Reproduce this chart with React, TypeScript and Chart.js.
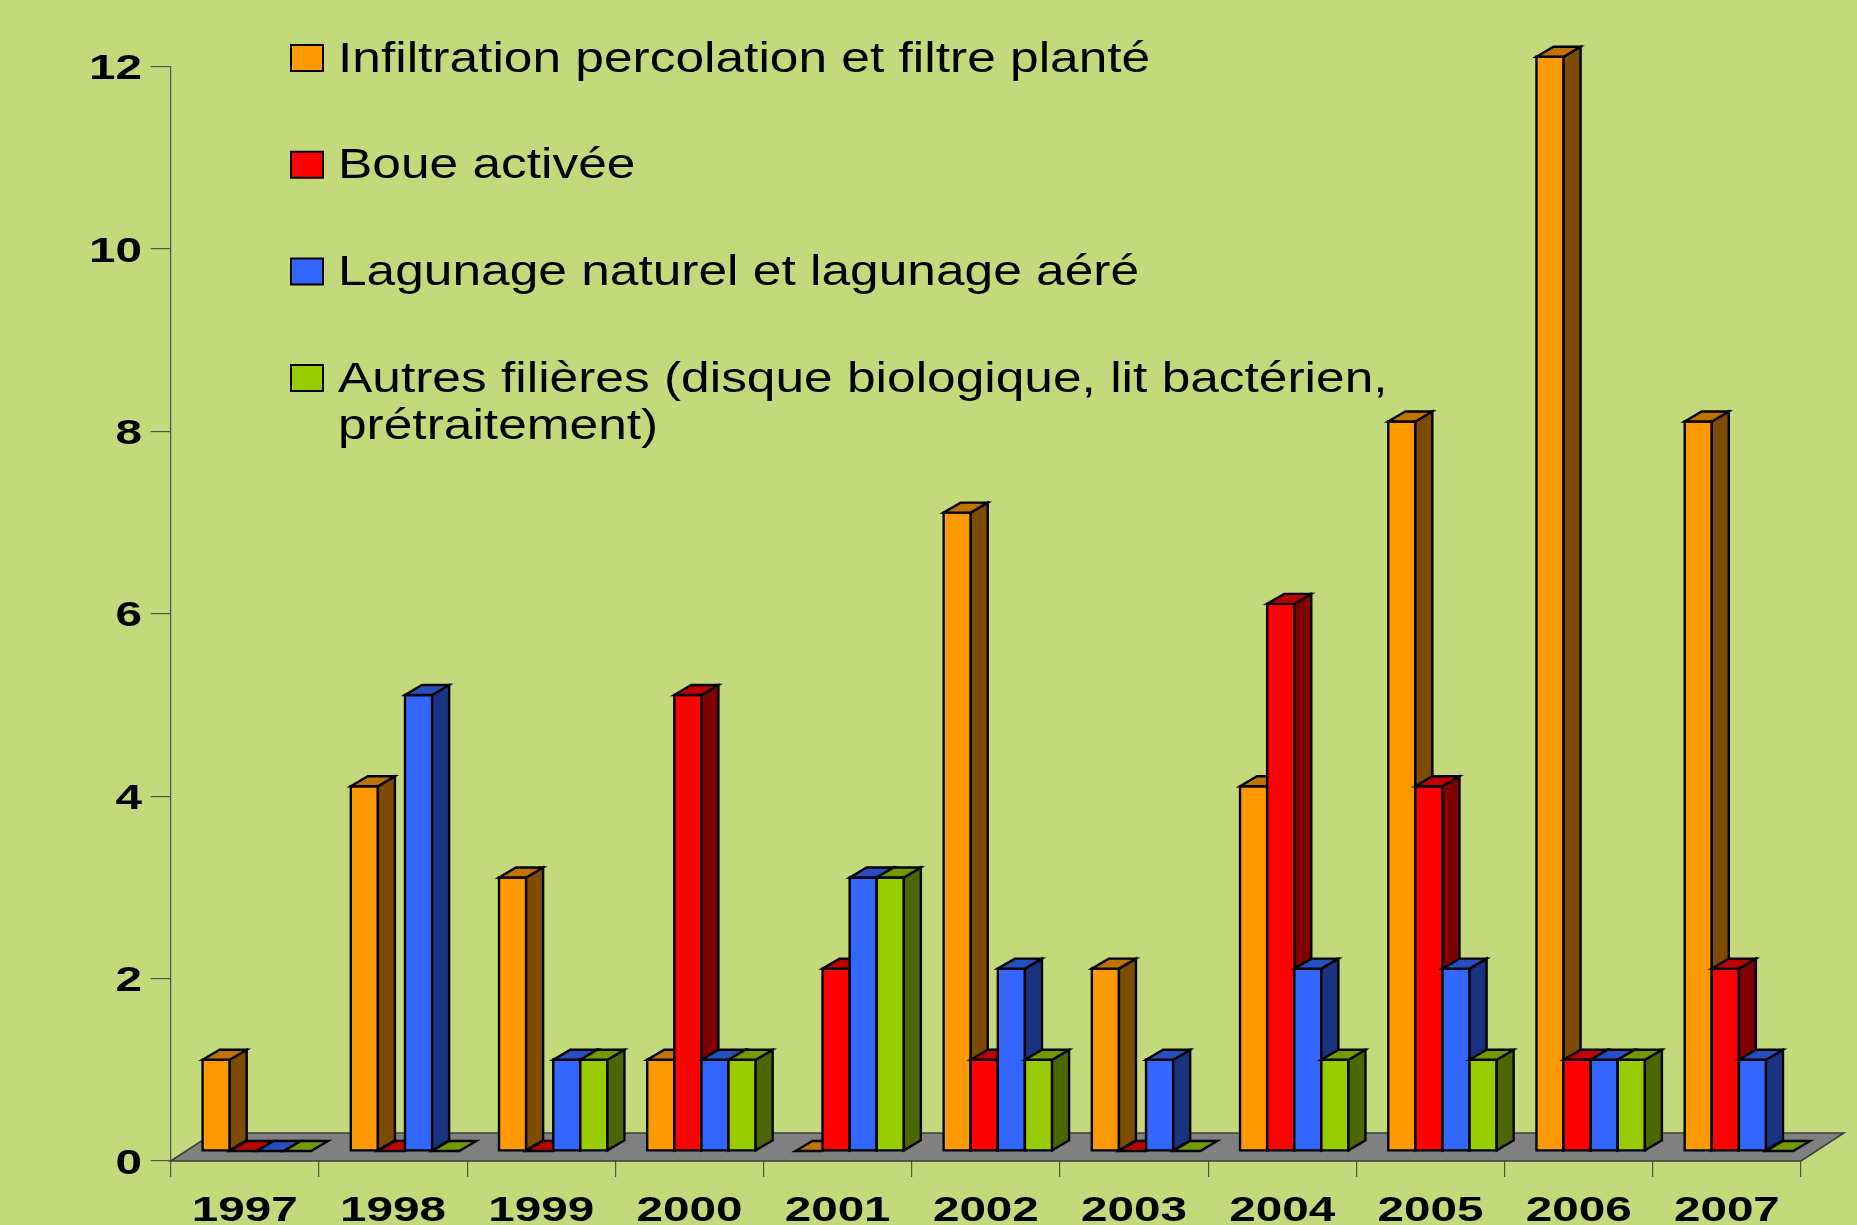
import React, { useEffect, useRef } from "react";
import { Chart, registerables } from "chart.js";

Chart.register(...registerables);

// ---------- data ----------
const YEARS = ["1997", "1998", "1999", "2000", "2001", "2002", "2003", "2004", "2005", "2006", "2007"];
const SERIES_LABELS = [
  "Infiltration percolation et filtre planté",
  "Boue activée",
  "Lagunage naturel et lagunage aéré",
  "Autres filières (disque biologique, lit bactérien,\nprétraitement)",
];
const INFILTRATION = [1, 4, 3, 1, 0, 7, 2, 4, 8, 12, 8];
const BOUE_ACTIVEE = [0, 0, 0, 5, 2, 1, 0, 6, 4, 1, 2];
const LAGUNAGE = [0, 5, 1, 1, 3, 2, 1, 2, 2, 1, 1];
const AUTRES = [0, 0, 1, 1, 3, 1, 0, 1, 1, 1, 0];
const Y_MIN = 0;
const Y_MAX = 12;
const Y_STEP = 2;

// ---------- styles ----------
const BG = "#C3D97B";
const FRONT = ["#FF9900", "#FF0000", "#3366FF", "#99CC00"];
const SIDE = ["#7D4C00", "#7F0000", "#1A3380", "#4C6600"];
const TOP = ["#BF7300", "#BF0000", "#2650BF", "#739900"];
const AXIS_COLOR = "#4E5645";
const FDX = 12; // front plane shift
const FDY = -10;
const DDX = 17; // bar depth
const DDY = 10;
const FLOOR_DX = 43;
const FLOOR_DY = 28;
const TICK_FONT = "bold 35px 'Liberation Sans', Arial, sans-serif";
const TICK_SX = 1.36;
const LEGEND_FONT = "42px 'Liberation Sans', Arial, sans-serif";
const LEGEND_SX = 1.225;

const bars3d = {
  id: "bars3d",
  beforeDraw(chart: any) {
    const ctx = chart.ctx;
    ctx.save();
    ctx.fillStyle = BG;
    ctx.fillRect(0, 0, chart.width, chart.height);
    ctx.restore();
  },
  beforeDatasetsDraw(chart: any) {
    const ctx = chart.ctx;
    const y0 = chart.scales.y.getPixelForValue(0);
    const l = chart.chartArea.left;
    const r = chart.chartArea.right;
    ctx.save();
    ctx.beginPath();
    ctx.moveTo(l, y0);
    ctx.lineTo(l + FLOOR_DX, y0 - FLOOR_DY);
    ctx.lineTo(r + FLOOR_DX, y0 - FLOOR_DY);
    ctx.lineTo(r, y0);
    ctx.closePath();
    ctx.fillStyle = "#808080";
    ctx.fill();
    ctx.lineWidth = 1.5;
    ctx.strokeStyle = "#3C3C3C";
    ctx.stroke();
    ctx.restore();
  },
  beforeDatasetDraw() {
    return false;
  },
  afterDatasetsDraw(chart: any) {
    const ctx = chart.ctx;
    ctx.save();
    ctx.lineWidth = 2.4;
    ctx.lineJoin = "miter";
    ctx.strokeStyle = "#000";
    chart.data.datasets.forEach((_ds: any, i: number) => {
      const meta = chart.getDatasetMeta(i);
      meta.data.forEach((el: any) => {
        const p = el.getProps(["x", "y", "base", "width"], true);
        const left = p.x - p.width / 2 + FDX;
        const right = p.x + p.width / 2 + FDX;
        const top = Math.min(p.y, p.base) + FDY;
        const bottom = Math.max(p.y, p.base) + FDY;
        if (bottom - top > 0.5) {
          ctx.beginPath();
          ctx.rect(left, top, right - left, bottom - top);
          ctx.fillStyle = FRONT[i];
          ctx.fill();
          ctx.stroke();
          ctx.beginPath();
          ctx.moveTo(right, top);
          ctx.lineTo(right + DDX, top - DDY);
          ctx.lineTo(right + DDX, bottom - DDY);
          ctx.lineTo(right, bottom);
          ctx.closePath();
          ctx.fillStyle = SIDE[i];
          ctx.fill();
          ctx.stroke();
        }
        ctx.beginPath();
        ctx.moveTo(left, top);
        ctx.lineTo(left + DDX, top - DDY);
        ctx.lineTo(right + DDX, top - DDY);
        ctx.lineTo(right, top);
        ctx.closePath();
        ctx.fillStyle = TOP[i];
        ctx.fill();
        ctx.stroke();
      });
    });
    ctx.restore();
  },
  afterDraw(chart: any) {
    const ctx = chart.ctx;
    const xs = chart.scales.x;
    const ys = chart.scales.y;
    ctx.save();
    ctx.fillStyle = "#000";
    ctx.font = TICK_FONT;
    ctx.textAlign = "right";
    ctx.textBaseline = "alphabetic";
    ys.ticks.forEach((t: any) => {
      const py = ys.getPixelForValue(t.value);
      ctx.save();
      ctx.translate(142, py + 12.5);
      ctx.scale(TICK_SX, 1);
      ctx.fillText(String(t.value), 0, 0);
      ctx.restore();
    });
    ctx.textAlign = "center";
    chart.data.labels.forEach((lab: string, i: number) => {
      const px = xs.getPixelForValue(i);
      ctx.save();
      ctx.translate(px, 1221);
      ctx.scale(TICK_SX, 1);
      ctx.fillText(lab, 0, 0);
      ctx.restore();
    });
    ctx.font = LEGEND_FONT;
    ctx.textAlign = "left";
    chart.data.datasets.forEach((ds: any, i: number) => {
      const boxTop = 45 + i * 106.7;
      ctx.beginPath();
      ctx.rect(291, boxTop, 32, 26);
      ctx.fillStyle = FRONT[i];
      ctx.fill();
      ctx.lineWidth = 2;
      ctx.strokeStyle = "#000";
      ctx.stroke();
      ctx.fillStyle = "#000";
      const lines = String(ds.label).split("\n");
      lines.forEach((ln, j) => {
        ctx.save();
        ctx.translate(338, boxTop + 26.5 + j * 47.7);
        ctx.scale(LEGEND_SX, 1);
        ctx.fillText(ln, 0, 0);
        ctx.restore();
      });
    });
    ctx.restore();
  },
};

export default function App() {
  const ref = useRef<HTMLCanvasElement | null>(null);
  useEffect(() => {
    if (!ref.current) return;
    const series = [INFILTRATION, BOUE_ACTIVEE, LAGUNAGE, AUTRES];
    const chart = new Chart(ref.current, {
      type: "bar",
      data: {
        labels: YEARS,
        datasets: series.map((d, i) => ({
          label: SERIES_LABELS[i],
          data: d,
          backgroundColor: FRONT[i],
          borderColor: "#000",
          borderWidth: 2,
          categoryPercentage: 0.7315,
          barPercentage: 1,
          clip: false as any,
        })),
      },
      options: {
        animation: false,
        responsive: false,
        devicePixelRatio: 1,
        events: [],
        layout: { padding: { left: 0, right: 56, top: 66.7, bottom: 0 } },
        plugins: { legend: { display: false }, tooltip: { enabled: false } },
        scales: {
          x: {
            type: "category",
            offset: true,
            grid: {
              offset: true,
              drawOnChartArea: false,
              drawTicks: true,
              tickLength: 16,
              color: AXIS_COLOR,
              lineWidth: 1.2,
            },
            border: { display: false },
            ticks: { display: false },
            afterFit: (s: any) => {
              s.height = 64;
            },
          },
          y: {
            type: "linear",
            min: Y_MIN,
            max: Y_MAX,
            ticks: { display: false, stepSize: Y_STEP },
            grid: {
              drawOnChartArea: false,
              drawTicks: true,
              tickLength: 20,
              color: AXIS_COLOR,
              lineWidth: 1.2,
            },
            border: { display: true, color: AXIS_COLOR, width: 1.2 },
            afterFit: (s: any) => {
              s.width = 170.7;
            },
          },
        },
      } as any,
      plugins: [bars3d],
    });
    return () => chart.destroy();
  }, []);
  return (
    <div style={{ position: "absolute", left: 0, top: 0, width: 1857, height: 1225, background: BG }}>
      <canvas ref={ref} width={1857} height={1225} style={{ display: "block", width: 1857, height: 1225 }} />
    </div>
  );
}
